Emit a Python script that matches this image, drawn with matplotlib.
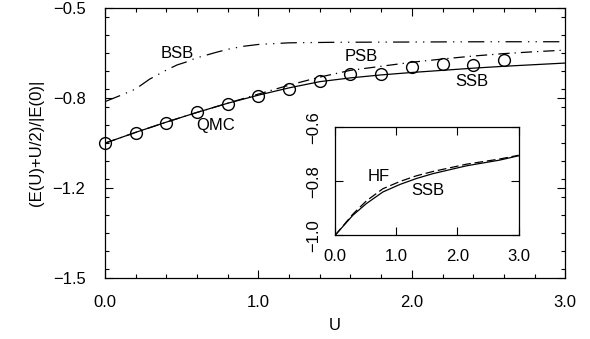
import matplotlib
matplotlib.use('Agg')
import matplotlib.pyplot as plt
from matplotlib.ticker import FixedLocator, MultipleLocator

plt.rcParams['font.family'] = ['Liberation Sans', 'DejaVu Sans']

# QMC points
u_qmc = [0.0, 0.2, 0.4, 0.6, 0.8, 1.0, 1.2, 1.4, 1.6, 1.8, 2.0, 2.2, 2.4, 2.6]
e_qmc = [-1.0, -0.961, -0.924, -0.885, -0.856, -0.827, -0.799, -0.769,
         -0.743, -0.743, -0.719, -0.706, -0.71, -0.691]

# SSB (solid)
u_curve = [0.0, 0.2, 0.4, 0.6, 0.8, 1.0, 1.2, 1.4, 1.6, 1.8, 2.0, 2.2, 2.4, 2.6, 2.8, 3.0]
e_ssb = [-1.0, -0.96, -0.922, -0.886, -0.852, -0.822, -0.795, -0.772,
         -0.758, -0.747, -0.738, -0.73, -0.722, -0.715, -0.709, -0.703]
# PSB (dash-dot)
e_psb = [-1.0, -0.96, -0.922, -0.886, -0.852, -0.818, -0.785, -0.755,
         -0.73, -0.715, -0.70, -0.688, -0.677, -0.668, -0.661, -0.655]
# BSB (dash-dot-dot)
u_bsb = [0.0, 0.11, 0.2, 0.29, 0.4, 0.47, 0.53, 0.59, 0.72, 0.8, 0.9, 1.0,
         1.2, 1.5, 2.0, 2.5, 3.0]
e_bsb = [-0.846, -0.821, -0.799, -0.763, -0.729, -0.71, -0.699, -0.685,
         -0.664, -0.652, -0.641, -0.634, -0.628, -0.626, -0.625, -0.624, -0.624]

# inset
u_in = [0.0, 0.29, 0.51, 0.78, 1.06, 1.33, 1.6, 2.15, 2.69, 3.0]
e_in_ssb = [-1.0, -0.926, -0.883, -0.84, -0.812, -0.79, -0.772, -0.743, -0.722, -0.706]
e_in_hf = [-1.0, -0.922, -0.873, -0.828, -0.801, -0.780, -0.764, -0.737, -0.718, -0.704]

yticks = [-1.5, -7 / 6, -5 / 6, -0.5]
ylabels = ['\u22121.5', '\u22121.2', '\u22120.8', '\u22120.5']

fig = plt.figure(figsize=(5.9, 3.39), dpi=100)
ax = fig.add_axes([0.178, 0.180, 0.780, 0.7955])

ax.plot(u_curve, e_ssb, color='black', lw=0.9)
ax.plot(u_curve, e_psb, color='black', lw=0.9, dashes=(9, 4, 1, 4))
ax.plot(u_bsb, e_bsb, color='black', lw=0.9, dashes=(13, 5, 1, 5, 1, 5))
ax.plot(u_qmc, e_qmc, 'o', ms=8.5, mfc='none', mec='black', mew=1.0, clip_on=False)

ax.set_xlim(0, 3)
ax.set_ylim(-1.5, -0.5)
ax.xaxis.set_major_locator(FixedLocator([0, 1, 2, 3]))
ax.xaxis.set_minor_locator(MultipleLocator(0.2))
ax.set_xticklabels(['0.0', '1.0', '2.0', '3.0'])
ax.yaxis.set_major_locator(FixedLocator(yticks))
ax.yaxis.set_minor_locator(MultipleLocator(1 / 15))
ax.set_yticklabels(ylabels)
ax.tick_params(which='both', direction='in', top=True, right=True, labelsize=12, width=0.8)
ax.tick_params(which='major', length=6)
ax.tick_params(which='minor', length=3)
ax.tick_params(axis='x', which='major', pad=12)
ax.tick_params(axis='y', which='major', pad=14)
for s in ax.spines.values():
    s.set_linewidth(0.9)
ax.set_xlabel('U', fontsize=12, labelpad=6)
ax.set_ylabel('(E(U)+U/2)/|E(0)|', fontsize=12, labelpad=6)

ax.text(0.47, -0.666, 'BSB', fontsize=12, ha='center', va='center')
ax.text(1.67, -0.679, 'PSB', fontsize=12, ha='center', va='center')
ax.text(2.39, -0.772, 'SSB', fontsize=12, ha='center', va='center')
ax.text(0.72, -0.936, 'QMC', fontsize=12, ha='center', va='center')

# inset
ins = fig.add_axes([0.568, 0.306, 0.311, 0.319])
ins.plot(u_in, e_in_ssb, color='black', lw=0.9)
ins.plot(u_in, e_in_hf, color='black', lw=0.9, dashes=(7, 3))
ins.set_xlim(0, 3)
ins.set_ylim(-1.0, -0.6)
ins.xaxis.set_major_locator(FixedLocator([0, 1, 2, 3]))
ins.set_xticklabels(['0.0', '1.0', '2.0', '3.0'])
ins.yaxis.set_major_locator(FixedLocator([-1.0, -0.8, -0.6]))
ins.set_yticklabels(['\u22121.0', '\u22120.8', '\u22120.6'], rotation=90, va='center')
ins.tick_params(direction='in', top=True, right=True, length=6, width=0.8, labelsize=12)
ins.tick_params(axis='x', pad=10)
ins.tick_params(axis='y', pad=10)
for s in ins.spines.values():
    s.set_linewidth(0.9)
ins.text(0.71, -0.781, 'HF', fontsize=12, ha='center', va='center')
ins.text(1.52, -0.835, 'SSB', fontsize=12, ha='center', va='center')

fig.savefig('out.png', dpi=100)
